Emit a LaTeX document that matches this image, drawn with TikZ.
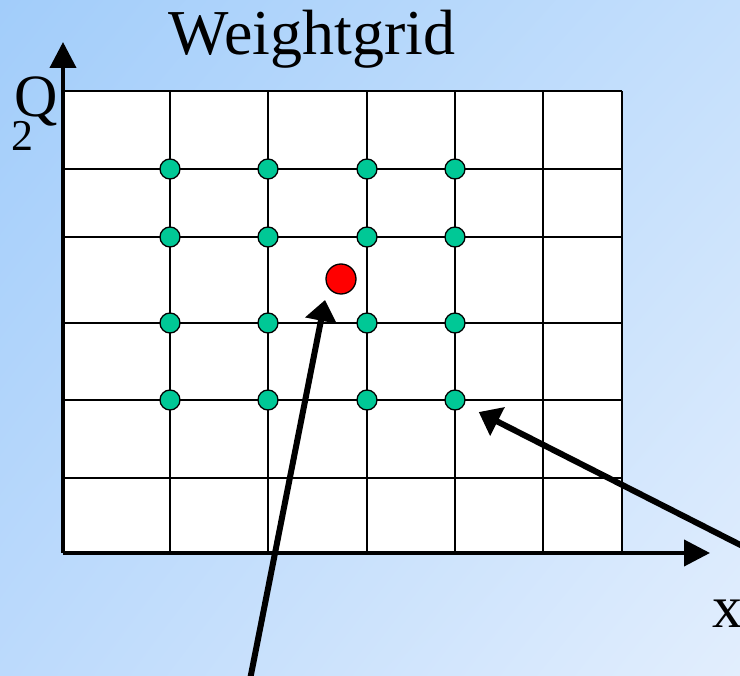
\documentclass[tikz,border=0pt]{standalone}
\usepackage{fontspec}
\setmainfont{Liberation Serif}
\usetikzlibrary{arrows.meta, shadings}
\definecolor{skytop}{RGB}{162,205,250}
\definecolor{skyright}{RGB}{196,223,252}
\definecolor{skyleft}{RGB}{188,218,252}
\definecolor{skybottom}{RGB}{226,238,253}
\definecolor{nodegreen}{RGB}{0,200,150}
\definecolor{targetred}{RGB}{255,0,0}

\begin{document}
\begin{tikzpicture}[x=1pt, y=-1pt,
    gridline/.style={black, line width=1.5pt},
    axis/.style={black, line width=4pt, -{Triangle[length=26pt, width=26pt]}},
    pointer/.style={black, line width=6pt, -{Triangle[length=21pt, width=31pt]}},
    knot/.style={circle, draw=black, line width=1.3pt, fill=nodegreen, minimum size=20pt, inner sep=0pt},
    label/.style={font=\fontsize{60}{66}\selectfont, inner sep=0pt, anchor=base}]
    \useasboundingbox (0,0) rectangle (740,676);
    \clip (0,0) rectangle (740,676);
    \shade[upper left=skytop, upper right=skyright, lower left=skyleft, lower right=skybottom] (0,0) rectangle (740,676);

    % grid
    \fill[white] (63,91) rectangle (622,553);
    \foreach \x in {170,268,367,455,543,622}
        \draw[gridline] (\x,91) -- (\x,553);
    \foreach \y in {91,169,237,323,400,478}
        \draw[gridline] (63,\y) -- (622,\y);

    % axes
    \coordinate (origin) at (63,553);
    \coordinate (xend) at (710,553);
    \coordinate (yend) at (63,42);
    \draw[axis] (origin) -- (xend);
    \draw[axis] (origin) -- (yend);

    % weight nodes
    \foreach \x [count=\i] in {170,268,367,455}
        \foreach \y [count=\j] in {169,237,323,400}
            \node[knot] (k\i\j) at (\x,\y) {};
    \node[knot, fill=targetred, minimum size=30pt] (target) at (341,279) {};

    % labels
    \node[label, font=\fontsize{64}{70}\selectfont] (title) at (312,55) {Weightgrid};
    \node[label] (qlabel) at (36,117) {Q};
    \node[label, font=\fontsize{44}{48}\selectfont] (qsub) at (22,151) {2};
    \node[label] (xlabel) at (727,627) {x};

    % pointers
    \coordinate (src1) at (246,700);
    \coordinate (tip1) at (325,300);
    \draw[pointer] (src1) -- (tip1);
    \coordinate (src2) at (770,560);
    \draw[pointer, shorten >=16pt] (src2) -- (k44);
\end{tikzpicture}
\end{document}
